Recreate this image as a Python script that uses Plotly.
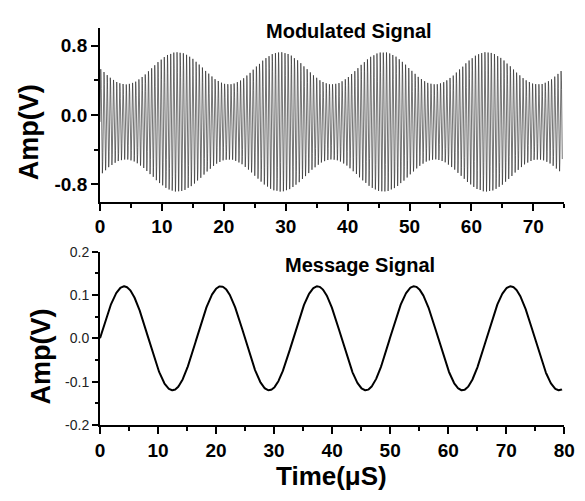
import numpy as np
import plotly.graph_objects as go

# ---- values ----
# Message signal (bottom panel)
MESSAGE_AMPLITUDE_V = 0.12      # peak of message sine
MESSAGE_PERIOD_US = 16.65       # peaks at ~4.2, 20.8, 37.5, 54.1, 70.8 us
MESSAGE_T_END_US = 79.6
# Modulated signal (top panel)
CARRIER_FREQ_MHZ = 1.95         # ~ one spike every 3.3 px
MOD_DC_OFFSET_V = -0.08         # centre of envelope
MOD_ENVELOPE_MEAN_V = 0.62      # mean half-height of envelope
MOD_ENVELOPE_SWING_V = 0.185    # envelope swing (opposite phase to message)
MOD_T_END_US = 74.7

top_y_ticks = [-0.8, 0.0, 0.8]
top_y_ticktext = ["-0.8", "0.0", "0.8"]
bot_y_ticks = [-0.2, -0.1, 0.0, 0.1, 0.2]
bot_y_ticktext = ["-0.2", "-0.1", "0.0", "0.1", "0.2"]
top_x_ticks = [0, 10, 20, 30, 40, 50, 60, 70]
bot_x_ticks = [0, 10, 20, 30, 40, 50, 60, 70, 80]

# ---- build signals ----
t_msg = np.linspace(0, MESSAGE_T_END_US, 1200)
m = MESSAGE_AMPLITUDE_V * np.sin(2 * np.pi * t_msg / MESSAGE_PERIOD_US)

t_mod = np.arange(0, MOD_T_END_US, 0.02)
env = MOD_ENVELOPE_MEAN_V - MOD_ENVELOPE_SWING_V * np.sin(2 * np.pi * t_mod / MESSAGE_PERIOD_US)
s = MOD_DC_OFFSET_V + env * np.sin(2 * np.pi * CARRIER_FREQ_MHZ * t_mod)

W, H = 585, 501
def fx(px): return px / W
def fy(py): return 1 - py / H

fig = go.Figure()
fig.add_trace(go.Scatter(x=t_mod, y=s, mode="lines", line=dict(color="#1a1a1a", width=0.6),
                         xaxis="x", yaxis="y", showlegend=False))
fig.add_trace(go.Scatter(x=t_msg, y=m, mode="lines", line=dict(color="black", width=2),
                         xaxis="x2", yaxis="y2", showlegend=False))

FONT = "Liberation Sans, Arial, sans-serif"
axis_common = dict(showline=True, linecolor="black", linewidth=2, ticks="outside",
                   tickcolor="black", tickwidth=2, showgrid=False, zeroline=False, mirror=False)

fig.update_layout(
    width=W, height=H, margin=dict(l=0, r=0, t=0, b=0),
    paper_bgcolor="white", plot_bgcolor="white",
    xaxis=dict(domain=[fx(97.7), fx(575)], anchor="y", range=[0, 75],
               tickvals=top_x_ticks, ticklen=7, ticklabeloverflow="allow",
               minor=dict(dtick=5, ticklen=4, tickcolor="black", tickwidth=2, ticks="outside"),
               tickfont=dict(family=FONT, size=19, color="black", weight="bold"), **axis_common),
    yaxis=dict(domain=[fy(200), fy(21)], anchor="x", range=[-1, 1],
               tickvals=top_y_ticks, ticktext=top_y_ticktext, ticklen=7,
               minor=dict(tickvals=[-0.4, 0.4], ticklen=4, tickcolor="black", tickwidth=2, ticks="outside"),
               tickfont=dict(family=FONT, size=19, color="black", weight="bold"),
               **axis_common),
    xaxis2=dict(domain=[fx(97.7), fx(575)], anchor="y2", range=[0, 80],
                tickvals=bot_x_ticks, ticklen=7, ticklabeloverflow="allow",
                minor=dict(dtick=5, ticklen=4, tickcolor="black", tickwidth=2, ticks="outside"),
                tickfont=dict(family=FONT, size=19, color="black", weight="bold"),
                **axis_common),
    yaxis2=dict(domain=[fy(430.7), fy(251.7)], anchor="x2", range=[-0.2, 0.2],
                tickvals=bot_y_ticks, ticktext=bot_y_ticktext, ticklen=6,
                minor=dict(dtick=0.05, ticklen=3, tickcolor="black", tickwidth=2, ticks="outside"),
                tickfont=dict(family=FONT, size=14, color="#222222"),
                **axis_common),
    annotations=[
        dict(text="Modulated Signal", x=fx(354), y=fy(24), xref="paper", yref="paper",
             showarrow=False, xanchor="center", yanchor="middle",
             font=dict(family=FONT, size=20, color="black", weight="bold")),
        dict(text="Message Signal", x=fx(365), y=fy(265), xref="paper", yref="paper",
             showarrow=False, xanchor="center", yanchor="middle",
             font=dict(family=FONT, size=20, color="black", weight="bold")),
        dict(text="Amp(V)", x=fx(25), y=fy(128), xref="paper", yref="paper", textangle=-90,
             showarrow=False, xanchor="center", yanchor="middle",
             font=dict(family=FONT, size=27, color="black", weight="bold")),
        dict(text="Amp(V)", x=fx(37), y=fy(360), xref="paper", yref="paper", textangle=-90,
             showarrow=False, xanchor="center", yanchor="middle",
             font=dict(family=FONT, size=27, color="black", weight="bold")),
        dict(text="Time(μS)", x=fx(336), y=fy(483), xref="paper", yref="paper",
             showarrow=False, xanchor="center", yanchor="middle",
             font=dict(family=FONT, size=26, color="black", weight="bold")),
    ],
)

fig.write_html("out.html")
